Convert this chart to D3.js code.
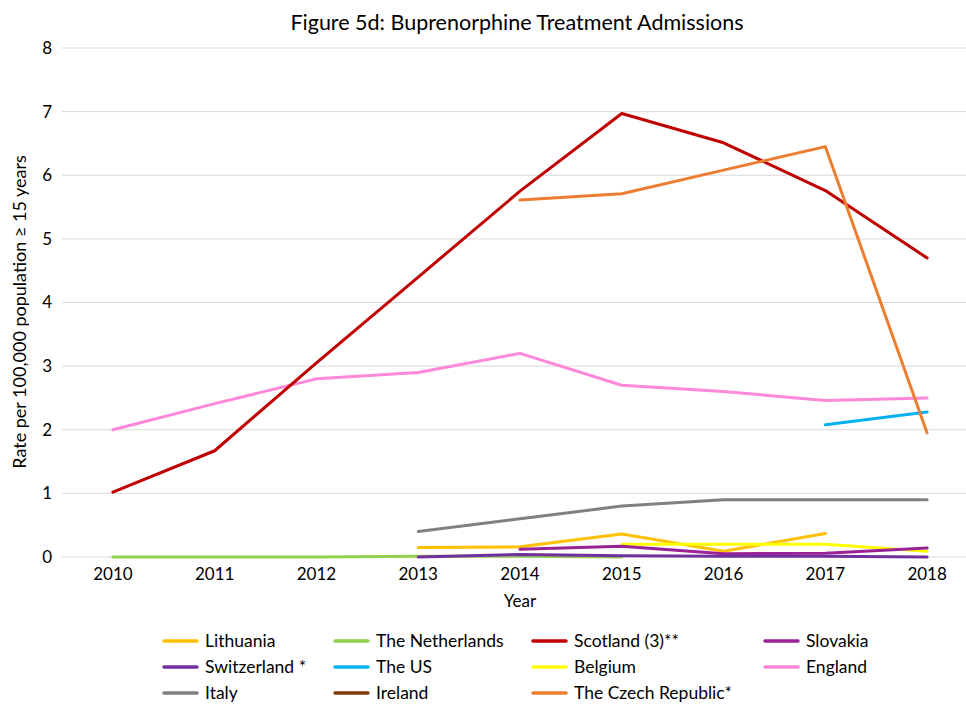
<!DOCTYPE html>
<html>
<head>
<meta charset="utf-8">
<title>Figure 5d</title>
<script src="https://d3js.org/d3.v7.min.js"></script>
<style>
body { margin: 0; background: #fff; }
text { font-family: Lato, "Open Sans", sans-serif; fill: #000; }
.grid line { stroke: #d9d9d9; stroke-width: 1px; }
.series { fill: none; stroke-width: 3px; stroke-linejoin: round; stroke-linecap: round; }
</style>
</head>
<body>
<script>
var years = [2010, 2011, 2012, 2013, 2014, 2015, 2016, 2017, 2018];
var yTicks = [0, 1, 2, 3, 4, 5, 6, 7, 8];

// values per year, null = no data
var lithuania   = [null, null, null, 0.15, 0.16, 0.36, 0.09, 0.37, null];
var netherlands = [0, 0, 0, 0.01, 0.01, 0.0, null, null, null];
var scotland    = [1.02, 1.67, 3.05, 4.40, 5.75, 6.97, 6.51, 5.76, 4.70];
var slovakia    = [null, null, null, null, 0.12, 0.17, 0.05, 0.06, 0.14];
var switzerland = [null, null, null, 0.0, 0.04, 0.02, 0.01, 0.01, 0.0];
var theUS       = [null, null, null, null, null, null, null, 2.08, 2.28];
var belgium     = [null, null, null, null, null, 0.20, 0.20, 0.20, 0.09];
var england     = [2.0, 2.41, 2.8, 2.9, 3.2, 2.7, 2.6, 2.46, 2.5];
var italy       = [null, null, null, 0.40, 0.60, 0.80, 0.90, 0.90, 0.90];
var ireland     = [null, null, null, null, null, null, null, null, null];
var czech       = [null, null, null, null, 5.61, 5.71, 6.08, 6.45, 1.95];

var seriesNames = ["Lithuania", "The Netherlands", "Scotland (3)**", "Slovakia",
  "Switzerland *", "The US", "Belgium", "England", "Italy", "Ireland", "The Czech Republic*"];
var seriesColors = ["#FFC000", "#92D050", "#C00000", "#9A2296", "#7030A0", "#00B0F0",
  "#FFFF00", "#FF88D8", "#808080", "#843C0C", "#ED7D31"];
var seriesValues = [lithuania, netherlands, scotland, slovakia, switzerland, theUS,
  belgium, england, italy, ireland, czech];

// drawing order (back to front), roughly like the original
var drawOrder = [1, 8, 0, 6, 3, 4, 9, 7, 5, 2, 10];

var width = 966, height = 704;
var margin = {left: 62, right: -12, top: 48, bottom: 147};

var svg = d3.select("body").append("svg")
    .attr("width", width)
    .attr("height", height);

var x = d3.scaleBand()
    .domain(years)
    .range([margin.left, width - margin.right]);
var y = d3.scaleLinear()
    .domain([0, 8])
    .range([height - margin.bottom, margin.top]);

// gridlines
svg.append("g").attr("class", "grid")
  .selectAll("line")
  .data(yTicks)
  .enter().append("line")
    .attr("x1", margin.left)
    .attr("x2", width)
    .attr("y1", function(d) { return y(d); })
    .attr("y2", function(d) { return y(d); });

// y axis labels
var yAxis = svg.append("g")
    .attr("transform", "translate(" + margin.left + ",0)")
    .call(d3.axisLeft(y).tickValues(yTicks).tickSize(0).tickPadding(10));
yAxis.select(".domain").remove();
yAxis.selectAll("text").style("font-size", "17px").style("font-family", "Lato, sans-serif").attr("fill", "#000");

// x axis labels
var xAxis = svg.append("g")
    .attr("transform", "translate(0," + y(0) + ")")
    .call(d3.axisBottom(x).tickSize(0).tickPadding(11));
xAxis.select(".domain").remove();
xAxis.selectAll("text").style("font-size", "17px").style("font-family", "Lato, sans-serif").attr("fill", "#000");

// lines
var line = d3.line()
    .defined(function(d) { return d.v !== null; })
    .x(function(d) { return x(d.year) + x.bandwidth() / 2; })
    .y(function(d) { return y(d.v); });

drawOrder.forEach(function(i) {
  var pts = years.map(function(yr, j) { return {year: yr, v: seriesValues[i][j]}; });
  svg.append("path")
    .attr("class", "series")
    .attr("stroke", seriesColors[i])
    .attr("d", line(pts));
});

// title
svg.append("text")
    .attr("x", 517)
    .attr("y", 30)
    .attr("text-anchor", "middle")
    .style("font-size", "21.5px")
    .text("Figure 5d: Buprenorphine Treatment Admissions");

// axis titles
svg.append("text")
    .attr("x", 520)
    .attr("y", 607)
    .attr("text-anchor", "middle")
    .style("font-size", "17px")
    .text("Year");

svg.append("text")
    .attr("transform", "translate(26,312) rotate(-90)")
    .attr("text-anchor", "middle")
    .style("font-size", "18px")
    .text("Rate per 100,000 population \u2265 15 years");

// legend
var colX = [164, 335, 533, 765];
var rowY = [641, 667, 693];
var legend = svg.append("g");
seriesNames.forEach(function(name, i) {
  var cx = colX[i % 4], cy = rowY[Math.floor(i / 4)];
  legend.append("line")
    .attr("x1", cx).attr("x2", cx + 33)
    .attr("y1", cy).attr("y2", cy)
    .attr("stroke", seriesColors[i])
    .attr("stroke-width", 3.5)
    .attr("stroke-linecap", "round");
  legend.append("text")
    .attr("x", cx + 41)
    .attr("y", cy + 6)
    .style("font-size", "17.5px")
    .text(name);
});
</script>
</body>
</html>
